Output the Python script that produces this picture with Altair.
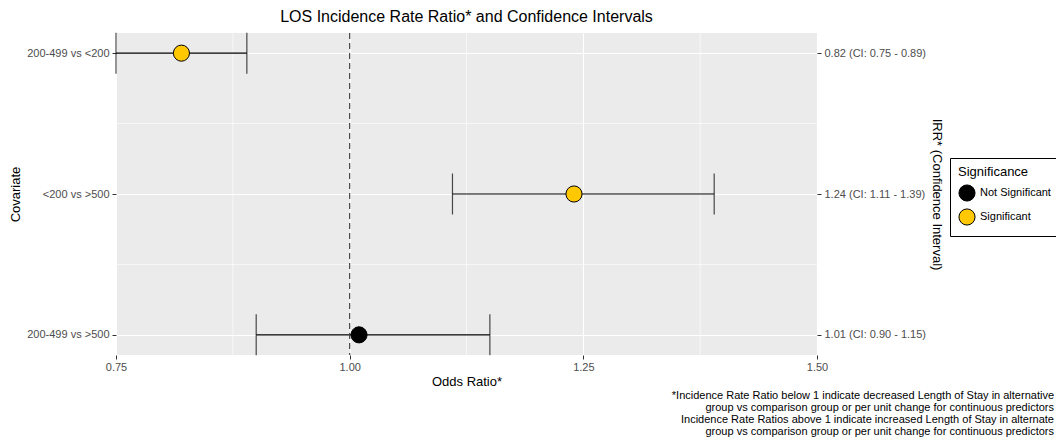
import altair as alt
import pandas as pd

covariates = ["200-499 vs <200", "<200 vs >500", "200-499 vs >500"]
rows = [3, 2, 1]
irr = [0.82, 1.24, 1.01]
ci_low = [0.75, 1.11, 0.90]
ci_high = [0.89, 1.39, 1.15]
significance = ["Significant", "Significant", "Not Significant"]
x_ticks = [0.75, 1.00, 1.25, 1.50]
x_minor = [0.875, 1.125, 1.375]
y_minor = [1.5, 2.5]
footnote = [
    "*Incidence Rate Ratio below 1 indicate decreased Length of Stay in alternative",
    "group vs comparison group or per unit change for continuous predictors",
    "Incidence Rate Ratios above 1 indicate increased Length of Stay in alternate",
    "group vs comparison group or per unit change for continuous predictors",
]

right_labels = [f"{v:.2f} (CI: {l:.2f} - {h:.2f})" for v, l, h in zip(irr, ci_low, ci_high)]
df = pd.DataFrame({"cov": covariates, "row": rows, "irr": irr, "lo": ci_low,
                   "hi": ci_high, "sig": significance, "rlab": right_labels})


def label_expr(labels):
    expr = "''"
    for r, lab in zip(rows, labels):
        expr = f"datum.value == {r} ? '{lab}' : ({expr})"
    return expr


FONT = "Liberation Sans"
xscale = alt.Scale(domain=[0.75, 1.5], nice=False, zero=False)
yscale = alt.Scale(domain=[0.857, 3.143], nice=False, zero=False)

x_axis = alt.Axis(values=x_ticks, format=".2f", grid=True, gridColor="white", gridWidth=1.1,
                  domain=False, tickColor="#333333", tickSize=4, labelColor="#4D4D4D",
                  labelFontSize=11, labelFont=FONT, titleFont=FONT, titleFontSize=13, labelFlush=False,
                  titleFontWeight="normal", titleColor="black", labelPadding=2, titlePadding=3)

base = alt.Chart(df)

minor_x = alt.Chart(pd.DataFrame({"v": x_minor})).mark_rule(color="white", strokeWidth=0.6).encode(
    x=alt.X("v:Q", scale=xscale, title="Odds Ratio*", axis=x_axis))
minor_y = alt.Chart(pd.DataFrame({"v": y_minor})).mark_rule(color="white", strokeWidth=0.6).encode(
    y=alt.Y("v:Q", scale=yscale, title="Covariate",
            axis=alt.Axis(values=rows, labelExpr=label_expr(covariates), grid=True, gridColor="white",
                          gridWidth=1.1, domain=False, tickColor="#333333", tickSize=4,
                          labelColor="#4D4D4D", labelFontSize=11, labelFont=FONT, titleFont=FONT,
                          titleFontSize=13, titleFontWeight="normal", titleColor="black",
                          labelPadding=3, titlePadding=4, orient="left")))

bars = base.mark_rule(color="black", strokeWidth=1.1).encode(
    x=alt.X("lo:Q", scale=xscale, title="Odds Ratio*", axis=x_axis),
    x2="hi:Q",
    y=alt.Y("row:Q", scale=yscale, axis=None),
)

tick_lo = base.mark_tick(orient="vertical", color="black", size=41, thickness=1.2).encode(
    x=alt.X("lo:Q", scale=xscale, title="Odds Ratio*", axis=x_axis),
    y=alt.Y("row:Q", scale=yscale, axis=None))
tick_hi = base.mark_tick(orient="vertical", color="black", size=41, thickness=1.2).encode(
    x=alt.X("hi:Q", scale=xscale, title="Odds Ratio*", axis=x_axis),
    y=alt.Y("row:Q", scale=yscale, axis=None))

ref = alt.Chart(pd.DataFrame({"v": [1.0]})).mark_rule(color="#444444", strokeDash=[6, 4], strokeWidth=1.2).encode(
    x=alt.X("v:Q", scale=xscale, title="Odds Ratio*", axis=x_axis))

points = base.mark_point(filled=True, stroke="black", strokeWidth=1, size=260, opacity=1).encode(
    x=alt.X("irr:Q", scale=xscale, title="Odds Ratio*", axis=x_axis),
    y=alt.Y("row:Q", scale=yscale, title="IRR* (Confidence Interval)",
            axis=alt.Axis(values=rows, labelExpr=label_expr(right_labels), grid=False, domain=False,
                          tickColor="#333333", tickSize=4, labelColor="#4D4D4D", labelFontSize=11,
                          labelFont=FONT, titleFont=FONT, titleFontSize=13, titleFontWeight="normal",
                          titleColor="black", labelPadding=3, titlePadding=4, orient="right")),
    fill=alt.Fill("sig:N", title="Significance",
                  scale=alt.Scale(domain=["Not Significant", "Significant"], range=["#000000", "#FFC800"]),
                  legend=alt.Legend(orient="none", legendX=834, legendY=125, strokeColor="black",
                                    padding=8, titleFont=FONT, titleFontSize=13, titleFontWeight="normal",
                                    labelFont=FONT, labelFontSize=11, symbolSize=260, symbolStrokeColor="black",
                                    symbolStrokeWidth=1, symbolType="circle", rowPadding=2, titlePadding=5,
                                    fillColor="white", labelColor="black", titleColor="black")),
)

note = alt.Chart(pd.DataFrame({"t": [0]})).mark_text(
    text=footnote, align="right", baseline="top", font=FONT, fontSize=11, lineHeight=12, color="black"
).encode(x=alt.value(938), y=alt.value(357))

chart = alt.layer(minor_x, minor_y, bars, tick_lo, tick_hi, ref, points, note).resolve_axis(
    y="independent").properties(
    width=701, height=322,
    background="white",
    title=alt.TitleParams("LOS Incidence Rate Ratio* and Confidence Intervals", font=FONT, fontSize=16,
                          fontWeight="normal", anchor="middle", offset=7, color="black"),
    autosize=alt.AutoSizeParams(type="none"),
    padding={"left": 108, "top": 25, "right": 239, "bottom": 84},
).configure_view(fill="#EBEBEB", stroke=None)

chart.save("out.html", embed_options={"renderer": "svg", "actions": False})
